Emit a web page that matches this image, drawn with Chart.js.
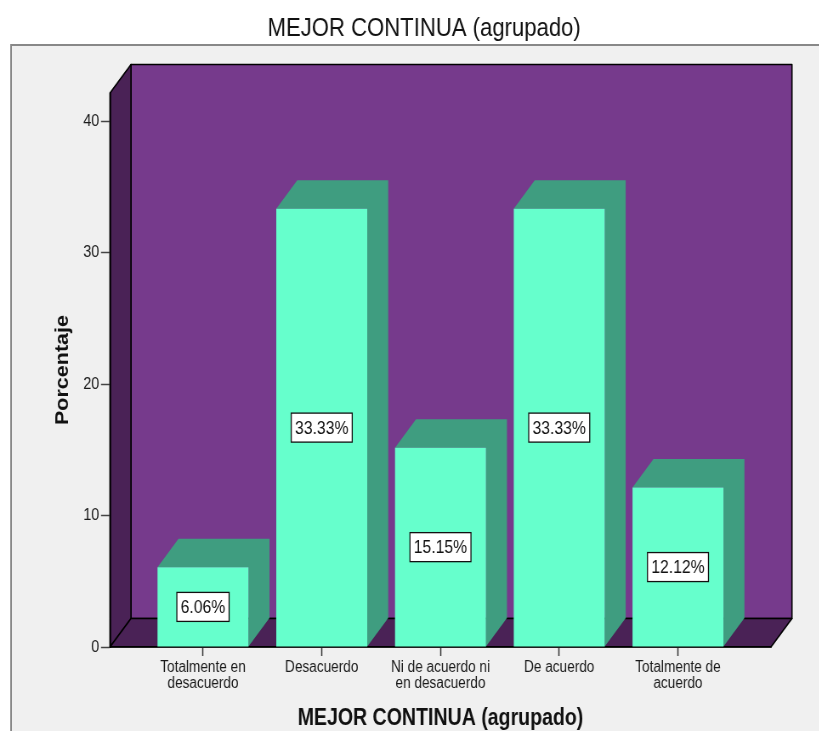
<!DOCTYPE html>
<html>
<head>
<meta charset="utf-8">
<script src="https://cdn.jsdelivr.net/npm/chart.js@4/dist/chart.umd.min.js"></script>
<style>
  html, body { margin: 0; padding: 0; background: #ffffff; overflow: hidden; width: 819px; height: 731px; }
  #wrap { width: 964px; height: 731px; transform: scaleX(0.85); transform-origin: 0 0; }
  canvas { display: block; }
</style>
</head>
<body>
<div id="wrap"><canvas id="chart" width="964" height="731" style="width:964px;height:731px"></canvas></div>
<script>
// Categories (split into the lines shown under each bar)
const categories = [
  ['Totalmente en', 'desacuerdo'],
  ['Desacuerdo'],
  ['Ni de acuerdo ni', 'en desacuerdo'],
  ['De acuerdo'],
  ['Totalmente de', 'acuerdo']
];
// Percentage of respondents per category
const percentages = [6.06, 33.33, 15.15, 33.33, 12.12];
// Value-axis tick labels
const yTicks = [0, 10, 20, 30, 40];
const chartTitle = 'MEJOR CONTINUA (agrupado)';
const yTitle = 'Porcentaje';

const FONT = "'Liberation Sans', Arial, Helvetica, sans-serif";
const DEPTH_X = 24.7;   // 3D depth offset, horizontal
const DEPTH_Y = -28.5;  // 3D depth offset, vertical

// Panel background, back wall, left wall and floor of the 3D box
const boxPlugin = {
  id: 'box3d',
  beforeDraw(chart) {
    const { ctx, chartArea, scales } = chart;
    const W = chart.width, H = chart.height;
    ctx.save();
    ctx.fillStyle = '#ffffff';
    ctx.fillRect(0, 0, W, H);
    // grey panel with frame on top and left
    ctx.fillStyle = '#f0f0f0';
    ctx.fillRect(13, 45, W - 13, H - 45);
    ctx.strokeStyle = '#888888';
    ctx.lineWidth = 2;
    ctx.beginPath();
    ctx.moveTo(13, H);
    ctx.lineTo(13, 45);
    ctx.lineTo(W, 45);
    ctx.stroke();

    const L = chartArea.left, R = chartArea.right;
    const T = scales.y.getPixelForValue(scales.y.max);
    const B = scales.y.getPixelForValue(0);
    const dx = DEPTH_X, dy = DEPTH_Y;

    ctx.lineJoin = 'round';
    ctx.strokeStyle = '#000000';
    ctx.lineWidth = 1.6;
    // back wall
    ctx.fillStyle = '#763a8c';
    ctx.beginPath();
    ctx.rect(L + dx, T + dy, R - L, B - T);
    ctx.fill();
    ctx.stroke();
    // left wall
    ctx.fillStyle = '#4a2256';
    ctx.beginPath();
    ctx.moveTo(L, T);
    ctx.lineTo(L + dx, T + dy);
    ctx.lineTo(L + dx, B + dy);
    ctx.lineTo(L, B);
    ctx.closePath();
    ctx.fill();
    ctx.stroke();
    // floor
    ctx.beginPath();
    ctx.moveTo(L, B);
    ctx.lineTo(L + dx, B + dy);
    ctx.lineTo(R + dx, B + dy);
    ctx.lineTo(R, B);
    ctx.closePath();
    ctx.fill();
    ctx.stroke();
    ctx.restore();
  },
  // top and side faces of each bar
  beforeDatasetsDraw(chart) {
    const { ctx } = chart;
    const meta = chart.getDatasetMeta(0);
    const dx = DEPTH_X, dy = DEPTH_Y;
    ctx.save();
    ctx.fillStyle = '#3f9d80';
    meta.data.forEach(bar => {
      const p = bar.getProps(['x', 'y', 'base', 'width'], true);
      const l = p.x - p.width / 2, r = p.x + p.width / 2;
      ctx.beginPath();
      ctx.moveTo(l, p.y);
      ctx.lineTo(l + dx, p.y + dy);
      ctx.lineTo(r + dx, p.y + dy);
      ctx.lineTo(r + dx, p.base + dy);
      ctx.lineTo(r, p.base);
      ctx.lineTo(r, p.y);
      ctx.closePath();
      ctx.fill();
    });
    ctx.restore();
  },
  // boxed value labels in the middle of each bar
  afterDatasetsDraw(chart) {
    const { ctx } = chart;
    const meta = chart.getDatasetMeta(0);
    ctx.save();
    ctx.font = '18.5px ' + FONT;
    ctx.textAlign = 'center';
    ctx.textBaseline = 'middle';
    meta.data.forEach((bar, i) => {
      const p = bar.getProps(['x', 'y', 'base'], true);
      const text = percentages[i].toFixed(2) + '%';
      const cy = (p.y + p.base) / 2;
      const tw = ctx.measureText(text).width;
      const bw = tw + 9, bh = 29;
      ctx.fillStyle = '#ffffff';
      ctx.fillRect(p.x - bw / 2, cy - bh / 2, bw, bh);
      ctx.strokeStyle = '#111111';
      ctx.lineWidth = 1.3;
      ctx.strokeRect(p.x - bw / 2, cy - bh / 2, bw, bh);
      ctx.fillStyle = '#111111';
      ctx.fillText(text, p.x, cy + 1);
    });
    ctx.restore();
  }
};

new Chart(document.getElementById('chart').getContext('2d'), {
  type: 'bar',
  data: {
    datasets: [{
      data: percentages.map((v, i) => ({ x: i, y: v })),
      backgroundColor: '#66ffcc',
      borderWidth: 0,
      barPercentage: 0.766,
      categoryPercentage: 1
    }]
  },
  plugins: [boxPlugin],
  options: {
    responsive: false,
    animation: false,
    events: [],
    layout: { padding: { left: 34, right: 0, top: 0, bottom: 0 } },
    plugins: {
      legend: { display: false },
      tooltip: { enabled: false },
      title: {
        display: true,
        text: chartTitle,
        color: '#111111',
        font: { family: FONT, size: 26, weight: 'normal', lineHeight: 1.2 },
        padding: { top: 12.9, bottom: 48.9 }
      }
    },
    scales: {
      x: {
        type: 'linear',
        min: -0.783,
        max: 4.783,
        offset: false,
        afterBuildTicks: s => { s.ticks = categories.map((_, i) => ({ value: i })); },
        afterFit: s => { s.height = 84; },
        grid: { display: true, offset: false, drawOnChartArea: false, drawTicks: true, tickLength: 9, tickColor: '#333333', tickWidth: 1.5 },
        border: { display: true, color: '#000000', width: 1.6 },
        ticks: {
          callback: v => categories[v],
          color: '#1a1a1a',
          font: { family: FONT, size: 16, lineHeight: 1.0 },
          padding: 4,
          maxRotation: 0,
          autoSkip: false
        },
        title: {
          display: true,
          text: chartTitle,
          color: '#111111',
          font: { family: FONT, size: 23, weight: 'bold', lineHeight: 1.0 },
          padding: { top: 0, bottom: 1 }
        }
      },
      y: {
        min: 0,
        max: 42.13,
        afterBuildTicks: s => { s.ticks = yTicks.map(v => ({ value: v })); },
        afterFit: s => { s.width = 95.4; },
        grid: { display: true, drawOnChartArea: false, drawTicks: true, tickLength: 10.6, tickColor: '#444444', tickWidth: 1.5 },
        border: { display: true, color: '#000000', width: 1.6 },
        ticks: {
          color: '#1a1a1a',
          font: { family: FONT, size: 17 },
          padding: 2
        },
        title: {
          display: true,
          text: yTitle,
          color: '#111111',
          font: { family: FONT, size: 21.5, weight: 'bold', lineHeight: 1.0 },
          padding: { top: 29, bottom: 0 }
        }
      },
      yRight: {
        position: 'right',
        display: true,
        afterFit: s => { s.width = 57; },
        grid: { display: false },
        border: { display: false },
        ticks: { display: false }
      }
    }
  }
});
</script>
</body>
</html>
